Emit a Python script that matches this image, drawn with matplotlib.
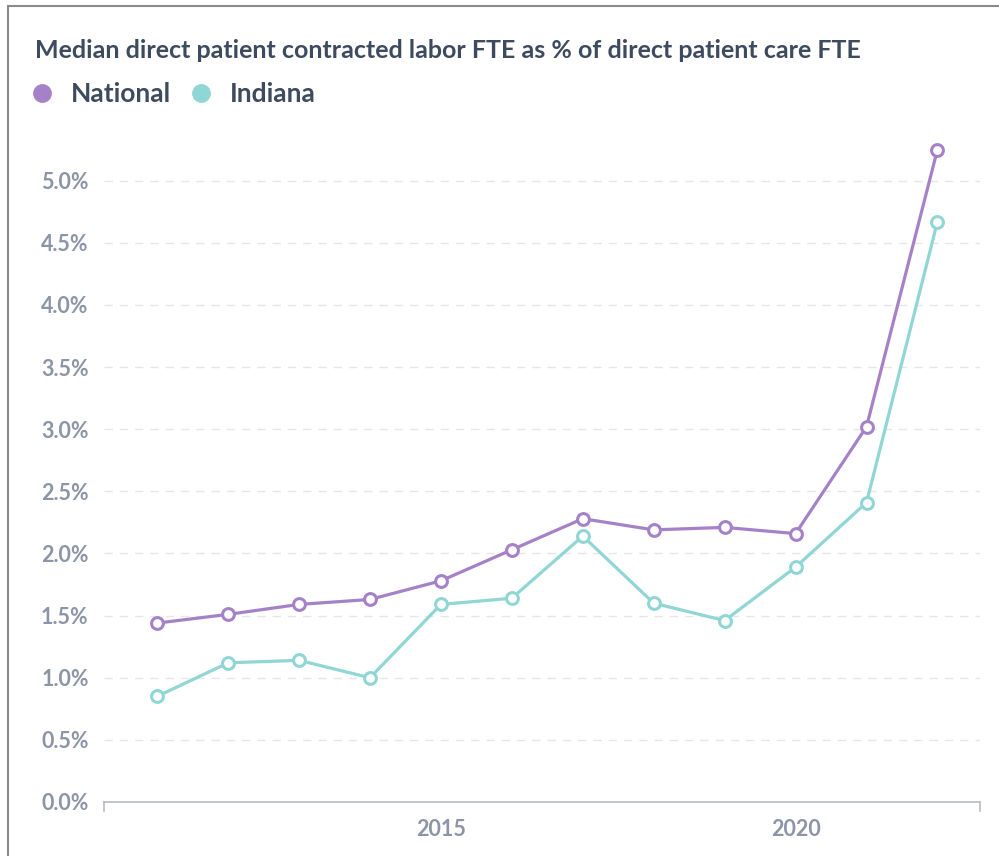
import matplotlib.pyplot as plt
import matplotlib.patches as mpatches
from matplotlib.lines import Line2D
from matplotlib.ticker import FuncFormatter

years = [2011, 2012, 2013, 2014, 2015, 2016, 2017, 2018, 2019, 2020, 2021, 2022]
national = [1.44, 1.51, 1.59, 1.63, 1.78, 2.03, 2.28, 2.19, 2.21, 2.16, 3.02, 5.25]
indiana = [0.85, 1.12, 1.14, 1.00, 1.59, 1.64, 2.14, 1.60, 1.46, 1.89, 2.41, 4.67]
x_ticks = [2015, 2020]
y_ticks = [0.0, 0.5, 1.0, 1.5, 2.0, 2.5, 3.0, 3.5, 4.0, 4.5, 5.0]

PURPLE = "#a582c8"
TEAL = "#8fd6d4"
TITLE_C = "#3e4a5e"
TICK_C = "#8c95a6"

plt.rcParams["font.family"] = ["Lato", "DejaVu Sans"]

W, H = 999, 856
fig = plt.figure(figsize=(W / 100, H / 100), dpi=100)

# outer card border
fig.patches.append(mpatches.Rectangle((8 / W, -0.01), 1.1, 1 - 6 / H + 0.01,
                                      transform=fig.transFigure, fill=False,
                                      edgecolor="#8a8a8a", linewidth=1.5))

ax = fig.add_axes([104 / W, (H - 802) / H, (980 - 104) / W, (802 - 131) / H])

for vals, c in [(national, PURPLE), (indiana, TEAL)]:
    ax.plot(years, vals, color=c, linewidth=2.3, marker="o", markersize=8.5,
            markerfacecolor="white", markeredgecolor=c, markeredgewidth=2.2,
            zorder=3)

ax.set_xlim(2010.25, 2022.6)
ax.set_ylim(0, 5.4)
ax.set_xticks(x_ticks)
ax.set_yticks(y_ticks)
ax.yaxis.set_major_formatter(FuncFormatter(lambda v, p: f"{v:.1f}%"))

for v in y_ticks[1:]:
    ax.axhline(v, color="#e6e6e6", linewidth=1, linestyle=(0, (6, 5)), zorder=1)

for s in ["top", "right", "left"]:
    ax.spines[s].set_visible(False)
ax.spines["bottom"].set_color("#b8bcc4")
ax.spines["bottom"].set_linewidth(1.2)
ax.tick_params(axis="y", length=0, pad=11, labelsize=15.5, labelcolor=TICK_C)
ax.tick_params(axis="x", length=0, pad=12, labelsize=15.5, labelcolor=TICK_C)
for lab in ax.get_xticklabels() + ax.get_yticklabels():
    lab.set_fontweight("bold")

# small end ticks on x axis
for xe in ax.get_xlim():
    ax.plot([xe, xe], [0, -0.07], color="#b8bcc4", linewidth=1.2,
            clip_on=False, zorder=2)

fig.text(35 / W, 1 - 50 / H, "Median direct patient contracted labor FTE as % of direct patient care FTE",
         fontsize=18, fontweight="bold", color=TITLE_C, va="center", ha="left")

handles = [Line2D([], [], linestyle="none", marker="o", markersize=12.5,
                  markerfacecolor=c, markeredgecolor=c) for c in (PURPLE, TEAL)]
fig.legend(handles, ["National", "Indiana"], loc="center left",
           bbox_to_anchor=(2 / W, 1 - 94 / H), frameon=False, ncol=2,
           handletextpad=0.5, columnspacing=0.55, handlelength=1.2,
           prop={"size": 19, "weight": "bold"}, labelcolor=TITLE_C)

fig.savefig("out.png", dpi=100)
